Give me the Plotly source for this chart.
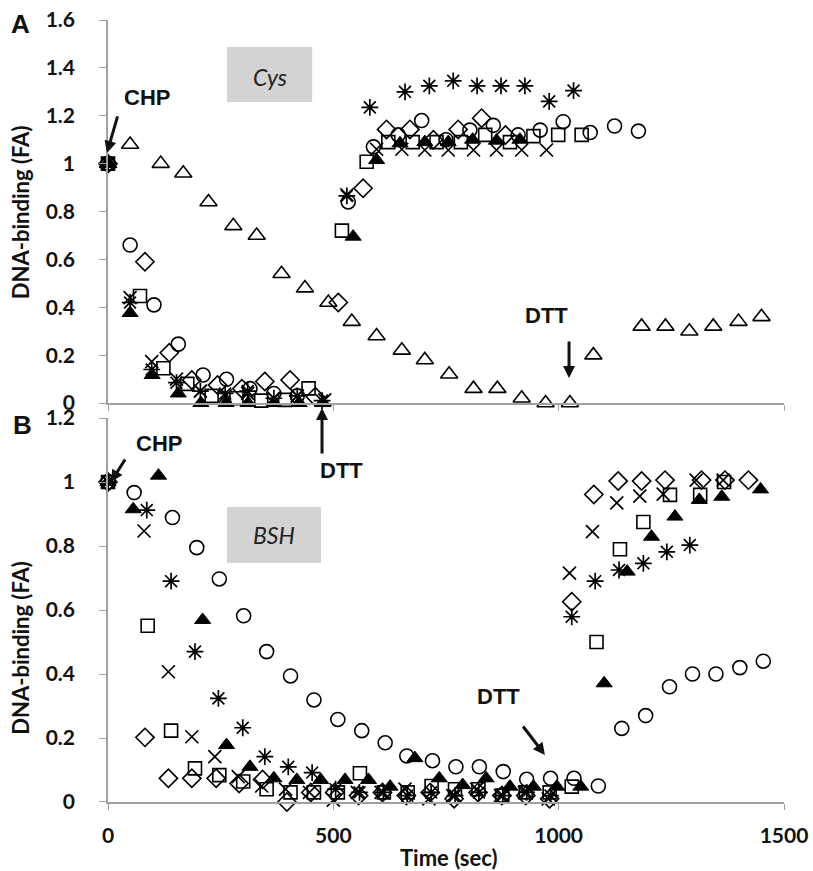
import plotly.graph_objects as go
from plotly.subplots import make_subplots

# ---------------- Panel A (Cys) ----------------
a_tri_open_x = [0, 49, 117, 167, 223, 278, 330, 385, 437, 489, 541, 596, 652, 703, 757, 811, 864, 918, 971, 1025, 1077, 1184, 1237, 1290, 1343, 1399, 1450]
a_tri_open_y = [1.0, 1.08, 1.0, 0.96, 0.84, 0.74, 0.70, 0.54, 0.48, 0.42, 0.34, 0.28, 0.22, 0.18, 0.12, 0.06, 0.06, 0.02, 0.0, 0.0, 0.20, 0.32, 0.32, 0.30, 0.32, 0.34, 0.36]

a_circle_x = [0, 49, 102, 156, 211, 263, 315, 368, 420, 533, 589, 644, 696, 750, 803, 855, 910, 959, 1010, 1070, 1124, 1177]
a_circle_y = [1.0, 0.66, 0.41, 0.246, 0.117, 0.099, 0.06, 0.04, 0.03, 0.84, 1.07, 1.12, 1.18, 1.10, 1.14, 1.16, 1.12, 1.14, 1.175, 1.13, 1.157, 1.136]

a_diamond_x = [0, 82, 136, 186, 243, 297, 348, 404, 460, 511, 566, 618, 670, 722, 777, 829, 882]
a_diamond_y = [1.0, 0.59, 0.21, 0.096, 0.075, 0.06, 0.09, 0.096, 0.026, 0.42, 0.897, 1.143, 1.143, 1.10, 1.143, 1.19, 1.12]

a_square_x = [0, 71, 123, 176, 230, 285, 340, 393, 445, 519, 574, 622, 676, 729, 783, 837, 892, 944, 999, 1051]
a_square_y = [1.0, 0.447, 0.145, 0.08, 0.03, 0.02, 0.01, 0.013, 0.061, 0.72, 1.008, 1.09, 1.09, 1.09, 1.09, 1.12, 1.09, 1.115, 1.12, 1.12]

a_x_x = [0, 49, 97, 152, 205, 260, 310, 368, 420, 481, 530, 596, 652, 703, 755, 811, 862, 918, 973]
a_x_y = [1.0, 0.44, 0.173, 0.10, 0.05, 0.03, 0.04, 0.02, 0.03, 0.013, 0.87, 1.06, 1.06, 1.057, 1.057, 1.057, 1.057, 1.057, 1.057]

a_ast_x = [0, 49, 97, 152, 205, 260, 310, 368, 420, 475, 530, 581, 659, 713, 766, 819, 872, 925, 979, 1033]
a_ast_y = [1.0, 0.42, 0.14, 0.085, 0.05, 0.04, 0.05, 0.02, 0.03, 0.01, 0.865, 1.235, 1.30, 1.325, 1.346, 1.325, 1.325, 1.325, 1.26, 1.305]

a_tri_fill_x = [0, 49, 98, 156, 206, 262, 311, 368, 424, 476, 544, 596, 648, 703, 755, 809, 862, 914]
a_tri_fill_y = [1.0, 0.376, 0.117, 0.04, 0.0, 0.0, 0.0, 0.0, 0.0, 0.0, 0.695, 1.015, 1.085, 1.09, 1.09, 1.10, 1.096, 1.10]

# ---------------- Panel B (BSH) ----------------
b_circle_x = [0, 58, 143, 197, 247, 301, 352, 405, 457, 510, 563, 615, 663, 720, 772, 824, 877, 929, 982, 1034, 1088, 1140, 1193, 1246, 1297, 1349, 1402, 1454]
b_circle_y = [1.0, 0.967, 0.889, 0.795, 0.697, 0.582, 0.47, 0.394, 0.319, 0.258, 0.223, 0.185, 0.144, 0.129, 0.11, 0.11, 0.095, 0.071, 0.074, 0.074, 0.05, 0.23, 0.27, 0.36, 0.40, 0.40, 0.42, 0.44]

b_tri_fill_x = [0, 56, 112, 210, 263, 315, 368, 419, 472, 526, 578, 626, 681, 735, 787, 839, 892, 944, 996, 1049, 1101, 1152, 1206, 1258, 1312, 1362, 1448]
b_tri_fill_y = [1.0, 0.915, 1.02, 0.569, 0.178, 0.11, 0.074, 0.069, 0.069, 0.069, 0.069, 0.048, 0.137, 0.074, 0.053, 0.074, 0.048, 0.048, 0.048, 0.048, 0.371, 0.72, 0.829, 0.892, 0.944, 0.954, 0.977]

b_square_x = [0, 88, 140, 193, 247, 300, 352, 405, 457, 510, 559, 612, 665, 718, 770, 822, 875, 927, 980, 1029, 1084, 1136, 1188, 1247, 1314, 1367]
b_square_y = [1.0, 0.551, 0.223, 0.105, 0.084, 0.064, 0.04, 0.03, 0.03, 0.03, 0.09, 0.03, 0.03, 0.05, 0.04, 0.04, 0.02, 0.03, 0.03, 0.048, 0.50, 0.79, 0.875, 0.96, 0.96, 1.0]

b_x_x = [0, 80, 134, 186, 237, 289, 341, 394, 447, 500, 553, 606, 659, 712, 765, 818, 871, 924, 977, 1024, 1075, 1129, 1180, 1232, 1305, 1365]
b_x_y = [1.0, 0.847, 0.407, 0.204, 0.142, 0.079, 0.05, 0.04, 0.03, 0.006, 0.03, 0.03, 0.04, 0.01, 0.02, 0.04, 0.02, 0.03, 0.01, 0.715, 0.845, 0.935, 0.956, 0.962, 1.006, 1.006]

b_diamond_x = [0, 82, 134, 186, 240, 291, 343, 397, 450, 503, 556, 609, 662, 715, 768, 821, 874, 927, 980, 1029, 1078, 1132, 1184, 1236, 1317, 1369, 1421]
b_diamond_y = [1.0, 0.202, 0.074, 0.074, 0.074, 0.058, 0.07, 0.0, 0.03, 0.03, 0.02, 0.03, 0.02, 0.03, 0.01, 0.03, 0.02, 0.02, 0.01, 0.626, 0.961, 1.003, 1.003, 1.006, 1.006, 1.006, 1.006]

b_ast_x = [0, 86, 140, 193, 245, 299, 348, 400, 453, 505, 558, 611, 664, 717, 770, 823, 876, 929, 982, 1029, 1081, 1134, 1188, 1240, 1291]
b_ast_y = [1.0, 0.9125, 0.69, 0.47, 0.324, 0.232, 0.142, 0.11, 0.092, 0.04, 0.03, 0.03, 0.02, 0.03, 0.02, 0.03, 0.02, 0.03, 0.02, 0.579, 0.69, 0.725, 0.746, 0.782, 0.803]

# ticks
x_ticks = [0, 500, 1000, 1500]
x_ticktext = ["0", "500", "1000", "1500"]
ya_ticks = [0, 0.2, 0.4, 0.6, 0.8, 1.0, 1.2, 1.4, 1.6]
ya_ticktext = ["0", "0.2", "0.4", "0.6", "0.8", "1", "1.2", "1.4", "1.6"]
yb_ticks = [0, 0.2, 0.4, 0.6, 0.8, 1.0, 1.2]
yb_ticktext = ["0", "0.2", "0.4", "0.6", "0.8", "1", "1.2"]

BLACK = "#000000"
AXIS = "#a0a0a0"

fig = make_subplots(rows=2, cols=1, shared_xaxes=False, vertical_spacing=0.02)


def add(x, y, symbol, size, row, lw=1.6):
    fig.add_trace(
        go.Scatter(
            x=x, y=y, mode="markers", cliponaxis=False, showlegend=False,
            marker=dict(symbol=symbol, size=size, color=BLACK,
                        line=dict(color=BLACK, width=lw)),
        ),
        row=row, col=1,
    )


# Panel A
add(a_tri_open_x, a_tri_open_y, "triangle-up-open", 15, 1)
add(a_circle_x, a_circle_y, "circle-open", 14, 1)
add(a_diamond_x, a_diamond_y, "diamond-open", 14, 1)
add(a_square_x, a_square_y, "square-open", 13, 1)
add(a_x_x, a_x_y, "x-thin-open", 13, 1, lw=1.7)
add(a_ast_x, a_ast_y, "asterisk-open", 14, 1, lw=1.7)
add(a_tri_fill_x, a_tri_fill_y, "triangle-up", 14, 1, lw=1)

# Panel B
add(b_circle_x, b_circle_y, "circle-open", 14, 2)
add(b_diamond_x, b_diamond_y, "diamond-open", 14, 2)
add(b_square_x, b_square_y, "square-open", 13, 2)
add(b_x_x, b_x_y, "x-thin-open", 13, 2, lw=1.7)
add(b_ast_x, b_ast_y, "asterisk-open", 14, 2, lw=1.7)
add(b_tri_fill_x, b_tri_fill_y, "triangle-up", 14, 2, lw=1)

tickfont = dict(family="Lato", size=21, color="#111111", weight="bold")

fig.update_xaxes(range=[0, 1500], tickvals=x_ticks, ticktext=x_ticktext,
                 showline=True, linecolor=AXIS, linewidth=1.5, ticks="outside",
                 ticklen=6, tickcolor=AXIS, showgrid=False, zeroline=False,
                 tickfont=tickfont, ticklabelstandoff=8, automargin=False)
fig.update_xaxes(showticklabels=False, row=1, col=1)

fig.update_yaxes(showline=True, linecolor=AXIS, linewidth=1.5, ticks="outside",
                 ticklen=7, tickcolor=AXIS, showgrid=False, zeroline=False,
                 tickfont=tickfont, ticklabelstandoff=20, automargin=False)
fig.update_yaxes(range=[0, 1.6], tickvals=ya_ticks, ticktext=ya_ticktext, row=1, col=1)
fig.update_yaxes(range=[0, 1.2], tickvals=yb_ticks, ticktext=yb_ticktext, row=2, col=1)

fig.update_layout(
    width=813, height=871,
    margin=dict(l=108, r=29, t=20, b=69, autoexpand=False),
    paper_bgcolor="white", plot_bgcolor="white",
    yaxis=dict(domain=[0.5102, 1.0]),
    yaxis2=dict(domain=[0.0, 0.491]),
)

shapes = [
    dict(type="rect", xref="paper", yref="paper", x0=0.176, x1=0.302, y0=0.895, y1=0.9655,
         fillcolor="#d3d3d3", line=dict(width=0), layer="below"),
    dict(type="rect", xref="paper", yref="paper", x0=0.176, x1=0.315, y0=0.3056, y1=0.3772,
         fillcolor="#d3d3d3", line=dict(width=0), layer="below"),
]
fig.update_layout(shapes=shapes)

lab = dict(family="Liberation Sans", size=22, color="#111111", weight="bold")
title_font = dict(family="Lato", size=22, color="#111111", weight="bold")
ann = [
    dict(text="A", x=-0.130, y=0.995, font=dict(family="Liberation Sans", size=26, color="#111111", weight="bold")),
    dict(text="B", x=-0.127, y=0.482, font=dict(family="Liberation Sans", size=26, color="#111111", weight="bold")),
    dict(text="DNA-binding (FA)", x=-0.129, y=0.754, textangle=-90, font=title_font),
    dict(text="DNA-binding (FA)", x=-0.129, y=0.197, textangle=-90, font=title_font),
    dict(text="Time (sec)", x=0.504, y=-0.0716, font=title_font),
    dict(text="CHP", x=0.0577, y=0.9015, font=lab),
    dict(text="DTT", x=0.649, y=0.6215, font=lab),
    dict(text="DTT", x=0.3447, y=0.4233, font=lab),
    dict(text="CHP", x=0.0754, y=0.459, font=lab),
    dict(text="DTT", x=0.578, y=0.1355, font=lab),
    dict(text="<i>Cys</i>", x=0.2396, y=0.927, font=dict(family="Lato", size=23, color="#222222")),
    dict(text="<i>BSH</i>", x=0.2456, y=0.3414, font=dict(family="Lato", size=23, color="#222222")),
]
annotations = []
for a in ann:
    d = dict(xref="paper", yref="paper", showarrow=False, xanchor="center", yanchor="middle")
    d.update(a)
    annotations.append(d)

arrows = [
    (-0.0015, 0.830, 11, -38),  # CHP A
    (0.682, 0.5422, 0, -38),    # DTT A top
    (0.3166, 0.5038, 0, 47),    # DTT lower (up arrow)
    (0.0044, 0.4092, 15, -24),  # CHP B
    (0.6464, 0.0601, -23, -30), # DTT B
]
for hx, hy, ax, ay in arrows:
    annotations.append(dict(xref="paper", yref="paper", x=hx, y=hy, ax=ax, ay=ay,
                            text="", showarrow=True, arrowhead=2, arrowsize=0.8,
                            arrowwidth=3, arrowcolor="#111111"))
fig.update_layout(annotations=annotations)

fig.write_html("out.html", config={"displayModeBar": False},
               post_script="document.body.style.margin='0px';document.body.style.overflow='hidden';")
